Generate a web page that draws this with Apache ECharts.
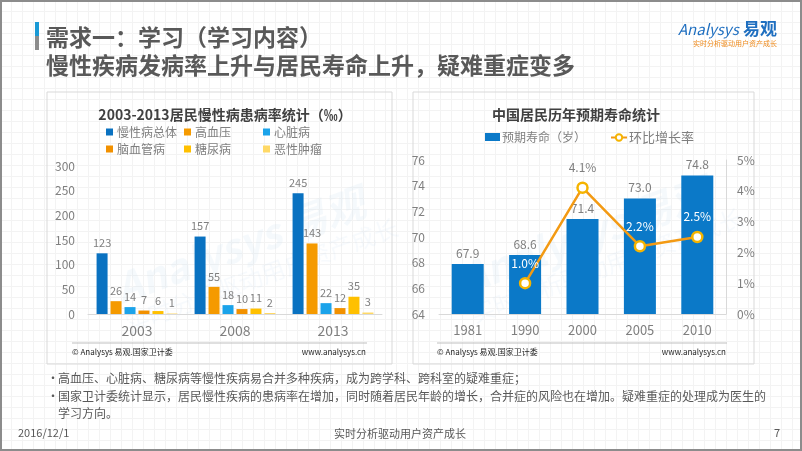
<!DOCTYPE html>
<html>
<head>
<meta charset="utf-8">
<script src="https://cdn.jsdelivr.net/npm/echarts@6/dist/echarts.min.js"></script>
<style>
html,body{margin:0;padding:0;}
body{width:802px;height:451px;overflow:hidden;background-color:#fff;
background-image:linear-gradient(#f3f3f3 1px, transparent 1px),linear-gradient(90deg,#f3f3f3 1px, transparent 1px);
background-size:11px 11px;}
#c{width:802px;height:451px;}
</style>
</head>
<body>
<div id="c"></div>
<script>
// ---- data ----
const years1 = ['2003', '2008', '2013'];
const chronicTotal = [123, 157, 245];
const hypertension = [26, 55, 143];
const heartDisease = [14, 18, 22];
const cerebro = [7, 10, 12];
const diabetes = [6, 11, 35];
const tumor = [1, 2, 3];
const yTicks1 = [0, 50, 100, 150, 200, 250, 300];

const years2 = ['1981', '1990', '2000', '2005', '2010'];
const lifeExpectancy = [67.9, 68.6, 71.4, 73.0, 74.8];
const growthRate = [null, 1.0, 4.1, 2.2, 2.5];

const FONT = '"Noto Sans CJK SC", "Noto Sans", sans-serif';
const GRAY = '#7f7f7f';
const chart = echarts.init(document.getElementById('c'), null, {renderer: 'canvas'});

const leftSeries = [
  {name: '慢性病总体', data: chronicTotal, color: '#0a72c1'},
  {name: '高血压', data: hypertension, color: '#f59a00'},
  {name: '心脏病', data: heartDisease, color: '#1ba3ea'},
  {name: '脑血管病', data: cerebro, color: '#f29100'},
  {name: '糖尿病', data: diabetes, color: '#ffc000'},
  {name: '恶性肿瘤', data: tumor, color: '#ffd966'}
];
const legPos = [[106, 126], [184, 126], [263, 126], [106, 143], [184, 143], [263, 143]];

const series = leftSeries.map(s => ({
  name: s.name, type: 'bar', xAxisIndex: 0, yAxisIndex: 0, data: s.data,
  barWidth: 11, barGap: '27%',
  itemStyle: {color: s.color},
  label: {show: true, position: 'top', distance: 5, color: GRAY, fontSize: 11, fontFamily: FONT}
}));

series.push({
  name: '预期寿命（岁）', type: 'bar', xAxisIndex: 1, yAxisIndex: 1, data: lifeExpectancy,
  barWidth: 32, itemStyle: {color: '#0b79c8'},
  label: {show: true, position: 'top', distance: 5, color: GRAY, fontSize: 12, fontFamily: FONT,
    formatter: p => p.value.toFixed(1)}
});
series.push({
  name: '环比增长率', type: 'line', xAxisIndex: 1, yAxisIndex: 2,
  data: growthRate.map(v => v === null ? null : {
    value: v,
    label: {color: v > 4 ? GRAY : '#ffffff'}
  }),
  symbol: 'circle', symbolSize: 10, connectNulls: false,
  lineStyle: {color: '#f39a13', width: 2.5},
  itemStyle: {color: '#ffffff', borderColor: '#f5b400', borderWidth: 2.5},
  label: {show: true, position: 'top', distance: 8, fontSize: 12, fontFamily: FONT,
    formatter: p => p.value.toFixed(1) + '%'},
  z: 5
});

const legends = leftSeries.map((s, i) => ({
  data: [s.name], left: legPos[i][0], top: legPos[i][1], padding: 0,
  icon: 'rect', itemWidth: 7, itemHeight: 7, itemGap: 0,
  textStyle: {color: GRAY, fontSize: 12, fontFamily: FONT, padding: [0, 0, 0, -1]}
}));
legends.push({data: ['预期寿命（岁）'], left: 485, top: 131, padding: 0, icon: 'rect',
  itemWidth: 15, itemHeight: 8, textStyle: {color: GRAY, fontSize: 12, fontFamily: FONT, padding: [0, 0, 0, -3]}});
legends.push({data: ['环比增长率'], left: 610, top: 131, padding: 0,
  itemWidth: 16, itemHeight: 8, textStyle: {color: GRAY, fontSize: 13, fontFamily: FONT, padding: [0, 0, 0, -3]}});

function wm(cx, cy) {
  return {
    type: 'group', x: cx, y: cy, rotation: Math.PI / 9, silent: true, z: -1,
    children: [
      {type: 'text', x: 0, y: 0, style: {text: 'Analysys 易观', fill: 'rgba(200,222,240,0.18)',
        font: 'bold italic 40px ' + FONT, textAlign: 'center', textVerticalAlign: 'middle'}},
      {type: 'text', x: 10, y: 36, style: {text: '实时分析驱动用户资产成长', fill: 'rgba(200,222,240,0.15)',
        font: '24px ' + FONT, textAlign: 'center', textVerticalAlign: 'middle'}}
    ]
  };
}

const option = {
  backgroundColor: 'transparent',
  animation: false,
  textStyle: {fontFamily: FONT},
  title: [
    {text: '2003-2013居民慢性病患病率统计（‰）', left: 220, top: 103, textAlign: 'center',
      textStyle: {color: '#404040', fontSize: 14, fontWeight: 'bold', fontFamily: FONT}},
    {text: '中国居民历年预期寿命统计', left: 571, top: 103, textAlign: 'center',
      textStyle: {color: '#404040', fontSize: 14, fontWeight: 'bold', fontFamily: FONT}}
  ],
  legend: legends,
  grid: [
    {left: 88, right: 420, top: 166, bottom: 137},
    {left: 439, right: 76, top: 160, bottom: 137}
  ],
  xAxis: [
    {type: 'category', gridIndex: 0, data: years1,
      axisLine: {lineStyle: {color: '#d9d9d9'}}, axisTick: {show: false},
      axisLabel: {color: GRAY, fontSize: 14, margin: 10, fontFamily: FONT}},
    {type: 'category', gridIndex: 1, data: years2,
      axisLine: {lineStyle: {color: '#d9d9d9'}}, axisTick: {show: false},
      axisLabel: {color: GRAY, fontSize: 13, margin: 10, fontFamily: FONT}}
  ],
  yAxis: [
    {type: 'value', gridIndex: 0, min: yTicks1[0], max: yTicks1[yTicks1.length - 1], interval: 50,
      splitLine: {show: false}, axisLine: {show: false}, axisTick: {show: false},
      axisLabel: {color: GRAY, fontSize: 12, margin: 13, fontFamily: FONT}},
    {type: 'value', gridIndex: 1, min: 64, max: 76, interval: 2,
      splitLine: {show: false}, axisLine: {show: false}, axisTick: {show: false},
      axisLabel: {color: GRAY, fontSize: 12, margin: 14, fontFamily: FONT}},
    {type: 'value', gridIndex: 1, position: 'right', min: 0, max: 5, interval: 1,
      splitLine: {show: false}, axisLine: {show: true, lineStyle: {color: '#d9d9d9'}}, axisTick: {show: false},
      axisLabel: {color: GRAY, fontSize: 12, margin: 11, fontFamily: FONT, formatter: '{value}%'}}
  ],
  series: series,
  graphic: [
    {type: 'rect', shape: {x: 1, y: 1, width: 800, height: 449}, style: {fill: 'none', stroke: '#8c8c8c', lineWidth: 2}, silent: true},
    {type: 'rect', shape: {x: 35, y: 22, width: 4, height: 14}, style: {fill: '#1a9ad6'}},
    {type: 'rect', shape: {x: 35, y: 36, width: 4, height: 14}, style: {fill: '#8c8c8c'}},
    {type: 'text', x: 46, y: 37, style: {text: '需求一：学习（学习内容）', fill: '#595959',
      font: 'bold 23px ' + FONT, textVerticalAlign: 'middle'}},
    {type: 'text', x: 46, y: 65, style: {text: '慢性疾病发病率上升与居民寿命上升，疑难重症变多', fill: '#595959',
      font: 'bold 23px ' + FONT, textVerticalAlign: 'middle'}},
    {type: 'text', x: 678, y: 29, style: {text: 'Analysys', fill: '#1f6fc0',
      font: 'italic 15px ' + FONT, textVerticalAlign: 'middle'}},
    {type: 'text', x: 777, y: 29, style: {text: '易观', fill: '#1f6fc0',
      font: 'bold 17px ' + FONT, textAlign: 'right', textVerticalAlign: 'middle'}},
    {type: 'text', x: 777, y: 43, style: {text: '实时分析驱动用户资产成长', fill: '#ee8a1c',
      font: '7px ' + FONT, textAlign: 'right', textVerticalAlign: 'middle'}},
    // chart panels
    {type: 'rect', shape: {x: 47, y: 92, width: 345, height: 272}, style: {fill: 'none', stroke: '#d9d9d9', lineWidth: 1}, z: -2},
    {type: 'rect', shape: {x: 413, y: 92, width: 341, height: 272}, style: {fill: 'none', stroke: '#d9d9d9', lineWidth: 1}, z: -2},
    wm(240, 245), wm(585, 235),
    // panel footers
    {type: 'line', shape: {x1: 72, y1: 343, x2: 367, y2: 343}, style: {stroke: '#bfbfbf', lineWidth: 1}},
    {type: 'line', shape: {x1: 437, y1: 343, x2: 727, y2: 343}, style: {stroke: '#bfbfbf', lineWidth: 1}},
    {type: 'text', x: 72, y: 352, style: {text: '© Analysys 易观.国家卫计委', fill: '#262626', font: '8px ' + FONT, textVerticalAlign: 'middle'}},
    {type: 'text', x: 366, y: 352, style: {text: 'www.analysys.cn', fill: '#262626', font: '8px ' + FONT, textAlign: 'right', textVerticalAlign: 'middle'}},
    {type: 'text', x: 437, y: 352, style: {text: '© Analysys 易观.国家卫计委', fill: '#262626', font: '8px ' + FONT, textVerticalAlign: 'middle'}},
    {type: 'text', x: 726, y: 352, style: {text: 'www.analysys.cn', fill: '#262626', font: '8px ' + FONT, textAlign: 'right', textVerticalAlign: 'middle'}},
    // bullets
    {type: 'text', x: 47, y: 378, style: {text: '•', fill: '#595959', font: '12px ' + FONT, textVerticalAlign: 'middle'}},
    {type: 'text', x: 58, y: 378, style: {text: '高血压、心脏病、糖尿病等慢性疾病易合并多种疾病，成为跨学科、跨科室的疑难重症；', fill: '#595959', font: '12px ' + FONT, textVerticalAlign: 'middle'}},
    {type: 'text', x: 47, y: 396, style: {text: '•', fill: '#595959', font: '12px ' + FONT, textVerticalAlign: 'middle'}},
    {type: 'text', x: 58, y: 396, style: {text: '国家卫计委统计显示，居民慢性疾病的患病率在增加，同时随着居民年龄的增长，合并症的风险也在增加。疑难重症的处理成为医生的', fill: '#595959', font: '12px ' + FONT, textVerticalAlign: 'middle'}},
    {type: 'text', x: 58, y: 413, style: {text: '学习方向。', fill: '#595959', font: '12px ' + FONT, textVerticalAlign: 'middle'}},
    // footer
    {type: 'text', x: 18, y: 433, style: {text: '2016/12/1', fill: '#595959', font: '11px ' + FONT, textVerticalAlign: 'middle'}},
    {type: 'text', x: 400, y: 434, style: {text: '实时分析驱动用户资产成长', fill: '#595959', font: '11px ' + FONT, textAlign: 'center', textVerticalAlign: 'middle'}},
    {type: 'text', x: 780, y: 433, style: {text: '7', fill: '#595959', font: '11px ' + FONT, textAlign: 'right', textVerticalAlign: 'middle'}}
  ]
};
chart.setOption(option);
</script>
</body>
</html>
